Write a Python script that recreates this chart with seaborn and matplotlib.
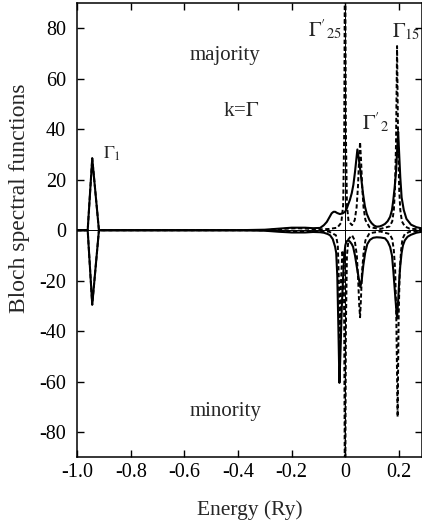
import matplotlib
matplotlib.use("Agg")
import matplotlib.pyplot as plt
import seaborn as sns

# ── data ─────────────────────────────────────────────
# majority spin, total Bloch spectral function (solid)
up_tot_E = [-1.0, -0.961, -0.944, -0.919, -0.40, -0.30, -0.25, -0.20, -0.15, -0.12,
            -0.094, -0.080, -0.069, -0.060, -0.051, -0.044, -0.038, -0.030, -0.020, -0.010,
            -0.001, 0.005, 0.010, 0.017, 0.024, 0.030, 0.036, 0.041, 0.045, 0.050,
            0.055, 0.060, 0.066, 0.073, 0.080, 0.090, 0.098, 0.108, 0.117, 0.128,
            0.138, 0.148, 0.158, 0.167, 0.174, 0.179, 0.184, 0.189, 0.193, 0.197,
            0.201, 0.205, 0.210, 0.218, 0.228, 0.245, 0.265, 0.286]
up_tot_A = [0, 0, 28.5, 0, 0, 0.2, 0.6, 1.0, 1.0, 0.8,
            0.9, 2.0, 3.3, 5.0, 6.7, 7.3, 7.3, 6.8, 6.4, 6.7,
            7.3, 8.5, 10, 12, 14.7, 18, 23, 28, 32, 28.5,
            24.5, 20, 14.5, 9.5, 6.5, 4.0, 2.8, 1.8, 1.4, 1.5,
            1.9, 2.5, 3.6, 5.3, 8, 12, 17, 23, 31, 39,
            30, 21, 13, 8, 4.5, 2.2, 1.2, 0.7]

# majority spin, partial contributions (dashed)
up_par_E = [-1.0, -0.961, -0.944, -0.919, -0.30, -0.22, -0.18, -0.14, -0.10, -0.06,
            -0.030, -0.015, -0.008, -0.004, -0.001, 0.002, 0.006, 0.012, 0.025, 0.035,
            0.042, 0.047, 0.051, 0.055, 0.059, 0.063, 0.068, 0.075, 0.090, 0.130,
            0.165, 0.175, 0.181, 0.185, 0.189, 0.193, 0.197, 0.201, 0.205, 0.211,
            0.222, 0.240, 0.286]
up_par_A = [0, 0, 28.5, 0, 0, 0.6, 0.8, 0.6, 0.3, 0.5,
            1.0, 3, 10, 40, 130, 40, 10, 3.5, 2.0, 4,
            9, 17, 27, 35, 27, 17, 9, 4, 1.2, 0.5,
            1.5, 3.5, 8, 16, 34, 73, 34, 16, 8, 3.5,
            1.5, 0.6, 0.3]

# minority spin, total (solid), plotted negative
dn_tot_E = [-1.0, -0.961, -0.944, -0.919, -0.40, -0.30, -0.25, -0.20, -0.15, -0.12,
            -0.094, -0.080, -0.066, -0.057, -0.047, -0.038, -0.034, -0.030, -0.026, -0.022,
            -0.018, -0.013, -0.008, -0.004, 0.000, 0.004, 0.010, 0.017, 0.024, 0.029,
            0.036, 0.043, 0.050, 0.056, 0.061, 0.067, 0.074, 0.082, 0.092, 0.104,
            0.117, 0.132, 0.148, 0.158, 0.167, 0.174, 0.179, 0.184, 0.189, 0.193,
            0.197, 0.201, 0.205, 0.210, 0.215, 0.222, 0.232, 0.245, 0.265, 0.286]
dn_tot_A = [0, 0, -29.5, 0, 0, -0.2, -0.6, -0.9, -0.9, -0.7,
            -0.8, -1.0, -1.5, -2.0, -3.5, -6.6, -9, -18, -38, -60.5,
            -48, -30, -18, -10, -6, -4.5, -4.0, -4.5, -5.5, -6.6,
            -10, -14.6, -19, -22.6, -20, -14, -9, -5.5, -3.8, -3.0,
            -2.8, -2.9, -3.2, -4.5, -6.6, -10, -16, -23, -30, -35,
            -28, -20, -14, -9, -6, -4, -2.6, -1.8, -1.0, -0.6]

# minority spin, partial contributions (dashed)
dn_par_E = [-1.0, -0.961, -0.944, -0.919, -0.30, -0.22, -0.18, -0.14, -0.10, -0.06,
            -0.035, -0.028, -0.024, -0.020, -0.016, -0.011, -0.006, -0.004, -0.001, 0.002,
            0.006, 0.012, 0.025, 0.035, 0.043, 0.048, 0.052, 0.055, 0.058, 0.062,
            0.068, 0.075, 0.090, 0.130, 0.165, 0.175, 0.181, 0.186, 0.190, 0.195,
            0.199, 0.203, 0.208, 0.213, 0.222, 0.240, 0.286]
dn_par_A = [0, 0, -29.5, 0, 0, -0.5, -0.7, -0.5, -0.3, -0.6,
            -2, -6, -20, -50, -20, -8, -12, -40, -130, -40,
            -10, -3.5, -2, -4, -10, -20, -30, -34.5, -28, -17,
            -9, -4, -1.2, -0.5, -1.5, -3.5, -8, -16, -34, -74,
            -34, -16, -8, -3.5, -1.5, -0.6, -0.3]

x_ticks = [-1.0, -0.8, -0.6, -0.4, -0.2, 0.0, 0.2]
x_labels = ["-1.0", "-0.8", "-0.6", "-0.4", "-0.2", "0", "0.2"]
y_ticks = [-80, -60, -40, -20, 0, 20, 40, 60, 80]

# ── style ────────────────────────────────────────────
sns.set_theme(style="ticks")
plt.rcParams['font.family'] = ['Liberation Serif', 'DejaVu Serif']
plt.rcParams['mathtext.fontset'] = 'stix'
plt.rcParams['axes.unicode_minus'] = False

fig = plt.figure(figsize=(4.22, 5.25), dpi=100)
ax = fig.add_axes([0.183, 0.129, 0.817, 0.865])

dash = (0, (2.2, 1.3))
sns.lineplot(x=up_tot_E, y=up_tot_A, color='black', lw=1.5, estimator=None, sort=False, ax=ax)
sns.lineplot(x=dn_tot_E, y=dn_tot_A, color='black', lw=1.5, estimator=None, sort=False, ax=ax)
sns.lineplot(x=up_par_E, y=up_par_A, color='black', lw=1.4, linestyle=dash,
             estimator=None, sort=False, ax=ax)
sns.lineplot(x=dn_par_E, y=dn_par_A, color='black', lw=1.4, linestyle=dash,
             estimator=None, sort=False, ax=ax)

# zero line and Fermi level
ax.axhline(0, color='black', lw=0.7)
ax.axvline(0, color='black', lw=0.7)

ax.set_xlim(-1.0, 0.286)
ax.set_ylim(-90, 90)
ax.set_xticks(x_ticks)
ax.set_xticklabels(x_labels)
ax.set_yticks(y_ticks)
ax.tick_params(direction='in', length=5, width=1, top=True, right=True,
               labelsize=14.5, pad=4, colors='black')
ax.tick_params(axis='y', pad=8)
for s in ax.spines.values():
    s.set_linewidth(1.1)
    s.set_color('black')

ax.set_xlabel('Energy (Ry)', fontsize=15.5)
ax.xaxis.set_label_coords(0.5, -0.094)
ax.set_ylabel('Bloch spectral functions', fontsize=17)
ax.yaxis.set_label_coords(-0.137, 0.57)

# annotations
ax.text(-0.449, 69.4, 'majority', fontsize=15, ha='center', va='center')
ax.text(-0.387, 47, r'k=$\Gamma$', fontsize=15, ha='center', va='center')
ax.text(-0.445, -71.7, 'minority', fontsize=15, ha='center', va='center')
ax.text(-0.904, 28.5, r'$\Gamma_1$', fontsize=13, ha='left', va='baseline')
ax.text(-0.139, 76.5, r"$\Gamma'_{25}$", fontsize=15, ha='left', va='baseline')
ax.text(0.062, 39.5, r"$\Gamma'_{2}$", fontsize=15, ha='left', va='baseline')
ax.text(0.174, 76.5, r'$\Gamma_{15}$', fontsize=15, ha='left', va='baseline')

plt.savefig('out.png', dpi=100)
